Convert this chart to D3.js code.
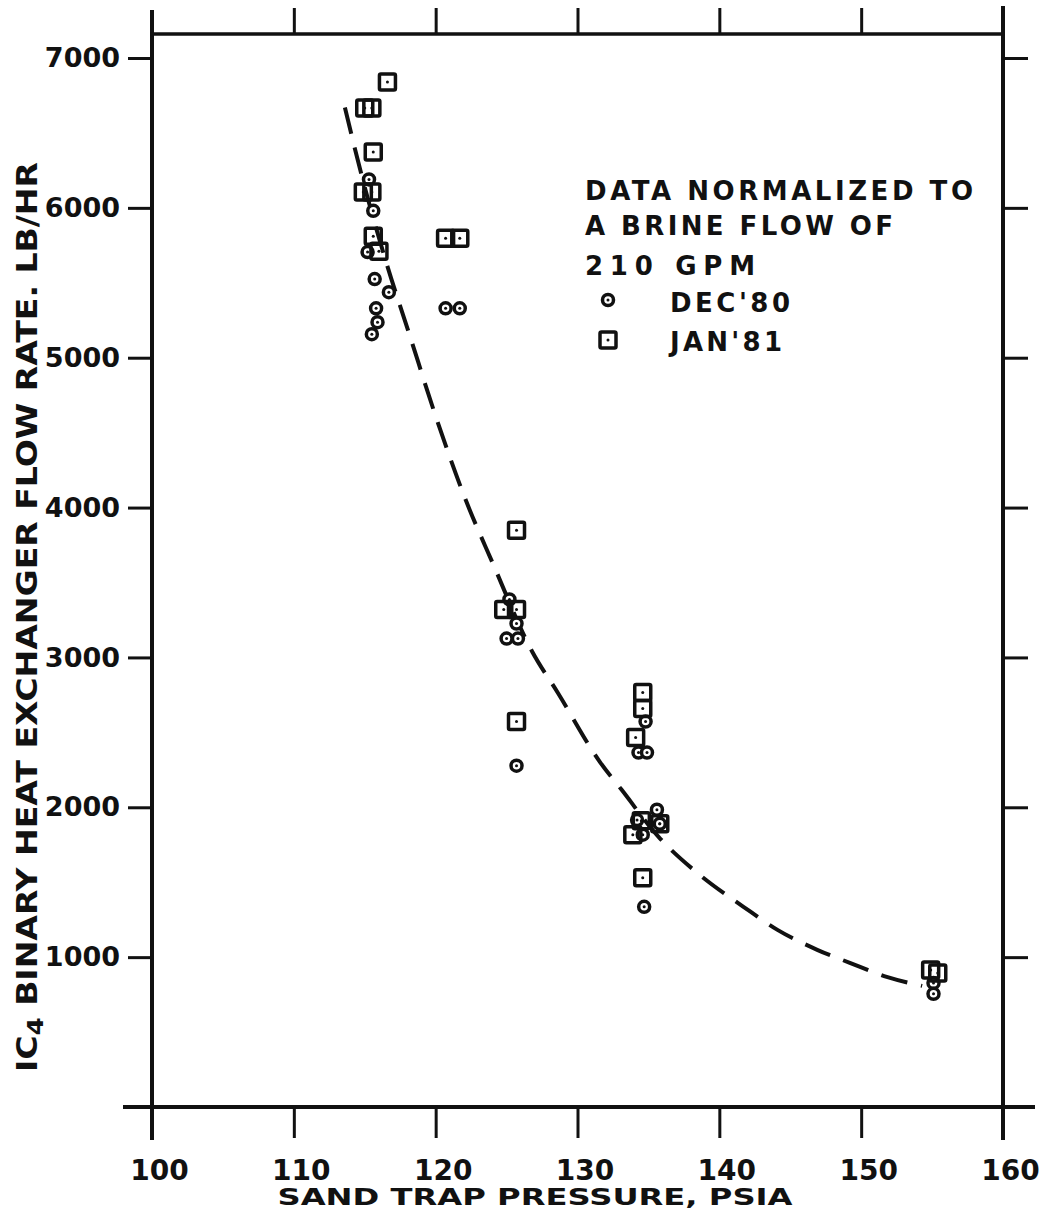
<!DOCTYPE html>
<html>
<head>
<meta charset="utf-8">
<script src="https://cdn.jsdelivr.net/npm/d3@7"></script>
<style>
  body { margin: 0; background: #fff; }
  text { font-family: "DejaVu Sans", sans-serif; font-weight: bold; fill: #111; }
</style>
</head>
<body>
<div id="chart-area"></div>
<script>

let width = 1045,
height = 1211;

// Data
// DEC'80 (circles)
let decX = [115.3, 115.6, 115.2, 115.7, 116.7, 115.8, 115.9, 115.5, 120.7, 121.7,
	125.2, 125.7, 125.0, 125.8, 125.7,
	134.8, 134.3, 134.9, 135.6, 135.8, 134.6, 134.2, 134.7,
	155.1, 155.1];
let decY = [6190, 5980, 5705, 5525, 5437, 5330, 5237, 5157, 5330, 5330,
	3387, 3226, 3126, 3126, 2278,
	2572, 2365, 2365, 1984, 1890, 1817, 1915, 1336,
	828, 755];

// JAN'81 (squares)
let janX = [116.6, 115.0, 115.5, 115.6, 114.9, 115.5, 115.6, 116.0, 120.7, 121.7,
	125.7, 124.8, 125.7, 125.7,
	134.6, 134.6, 134.1, 135.8, 134.5, 133.9, 134.6,
	154.9, 155.4];
let janY = [6840, 6667, 6667, 6373, 6105, 6105, 5810, 5710, 5798, 5798,
	3848, 3320, 3320, 2572,
	2766, 2659, 2465, 1890, 1910, 1817, 1530,
	915, 895];

// dashed fitted curve
let curveX = [113.6, 114.8, 116.6, 118.1, 120.0, 122.1, 124.0, 126.8, 128.6, 131.6,
	133.1, 135.7, 138.6, 141.7, 144.1, 146.9, 149.2, 151.8, 154.3];
let curveY = [6670, 6210, 5610, 5170, 4610, 4055, 3634, 3040, 2766, 2300,
	2118, 1804, 1550, 1336, 1182, 1049, 962, 868, 808];

let xTicks = [100, 110, 120, 130, 140, 150, 160];
let yTicks = [1000, 2000, 3000, 4000, 5000, 6000, 7000];

let legendLines = ["DATA NORMALIZED TO", "A BRINE FLOW OF", "210 GPM"];
let seriesNames = ["DEC'80", "JAN'81"];

let svg = d3.select("#chart-area").append("svg")
	.attr("width", width)
	.attr("height", height);

let x = d3.scaleLinear().domain([100, 160]).range([152, 1003]);
let y = d3.scaleLinear().domain([0, 7000]).range([1107, 58]);
let frameTop = 34;

// frame lines
let frame = svg.append("g").attr("stroke", "#111").attr("stroke-linecap", "square");
frame.append("line").attr("x1", x(100)).attr("x2", x(100)).attr("y1", 12).attr("y2", 1138).attr("stroke-width", 4);
frame.append("line").attr("x1", x(160)).attr("x2", x(160)).attr("y1", 8).attr("y2", 1138).attr("stroke-width", 4);
frame.append("line").attr("x1", x(100)).attr("x2", x(160)).attr("y1", frameTop).attr("y2", frameTop).attr("stroke-width", 3.5);
frame.append("line").attr("x1", 125).attr("x2", 1033).attr("y1", y(0)).attr("y2", y(0)).attr("stroke-width", 4);

// axes
let xAxis = svg.append("g")
	.attr("transform", "translate(0," + y(0) + ")")
	.call(d3.axisBottom(x).tickValues(xTicks).tickSize(31).tickSizeOuter(0).tickPadding(22));
let xTop = svg.append("g")
	.attr("transform", "translate(0," + frameTop + ")")
	.call(d3.axisTop(x).tickValues(xTicks.slice(1, -1)).tickSize(26).tickSizeOuter(0).tickFormat(""));
let yAxis = svg.append("g")
	.attr("transform", "translate(" + x(100) + ",0)")
	.call(d3.axisLeft(y).tickValues(yTicks).tickSize(24).tickSizeOuter(0).tickPadding(8).tickFormat(d3.format("d")));
let yRight = svg.append("g")
	.attr("transform", "translate(" + x(160) + ",0)")
	.call(d3.axisRight(y).tickValues(yTicks).tickSize(25).tickSizeOuter(0).tickFormat(""));

[xAxis, xTop, yAxis, yRight].forEach(function(g) {
	g.select(".domain").remove();
	g.selectAll(".tick line").attr("stroke", "#111").attr("stroke-width", 3);
	g.selectAll(".tick text").attr("fill", "#111");
});
xAxis.selectAll(".tick text")
	.style("font-size", "28px")
	.attr("dx", 7);
yAxis.selectAll(".tick text")
	.style("font-size", "27px");

// axis titles
svg.append("text")
	.attr("x", 535)
	.attr("y", 1205)
	.attr("text-anchor", "middle")
	.attr("textLength", 515)
	.attr("lengthAdjust", "spacingAndGlyphs")
	.style("font-size", "23px")
	.text("SAND TRAP PRESSURE, PSIA");

let yTitle = svg.append("text")
	.attr("transform", "translate(37,617) rotate(-90)")
	.attr("text-anchor", "middle")
	.style("font-size", "28px");
yTitle.append("tspan").text("IC");
yTitle.append("tspan").attr("baseline-shift", "-25%").style("font-size", "22px").text("4");
yTitle.append("tspan").text(" BINARY HEAT EXCHANGER FLOW RATE. LB/HR");
yTitle.attr("textLength", 910).attr("lengthAdjust", "spacingAndGlyphs");

// fitted curve
let line = d3.line()
	.x(function(d, i) { return x(curveX[i]); })
	.y(function(d, i) { return y(curveY[i]); })
	.curve(d3.curveMonotoneX);

svg.append("path")
	.datum(curveX)
	.attr("d", line)
	.attr("fill", "none")
	.attr("stroke", "#111")
	.attr("stroke-width", 4)
	.attr("stroke-dasharray", "27,14");

// markers
function drawCircle(g, cx, cy) {
	g.append("circle").attr("cx", cx).attr("cy", cy).attr("r", 5.5)
		.attr("fill", "#fff").attr("stroke", "#111").attr("stroke-width", 3.5);
	g.append("circle").attr("cx", cx).attr("cy", cy).attr("r", 1.5).attr("fill", "#111");
}
function drawSquare(g, cx, cy) {
	g.append("rect").attr("x", cx - 8).attr("y", cy - 8).attr("width", 16).attr("height", 16)
		.attr("rx", 1.5)
		.attr("fill", "none").attr("stroke", "#111").attr("stroke-width", 3.5);
	g.append("circle").attr("cx", cx).attr("cy", cy).attr("r", 1.5).attr("fill", "#111");
}

let decG = svg.append("g");
decX.forEach(function(d, i) { drawCircle(decG, x(d), y(decY[i])); });
let janG = svg.append("g");
janX.forEach(function(d, i) { drawSquare(janG, x(d), y(janY[i])); });

// legend
let legend = svg.append("g").style("font-size", "26px");
let legendBase = [200, 235, 275];
let legendLen = [388, 308, 170];
legendLines.forEach(function(t, i) {
	legend.append("text").attr("x", 585).attr("y", legendBase[i])
		.attr("textLength", legendLen[i]).attr("lengthAdjust", "spacing")
		.text(t);
});
drawCircle(legend, 608, 300);
drawSquare(legend, 608, 340);
legend.append("text").attr("x", 670).attr("y", 312)
	.attr("textLength", 120).attr("lengthAdjust", "spacing").text(seriesNames[0]);
legend.append("text").attr("x", 670).attr("y", 351)
	.attr("textLength", 112).attr("lengthAdjust", "spacing").text(seriesNames[1]);

</script>
</body>
</html>
